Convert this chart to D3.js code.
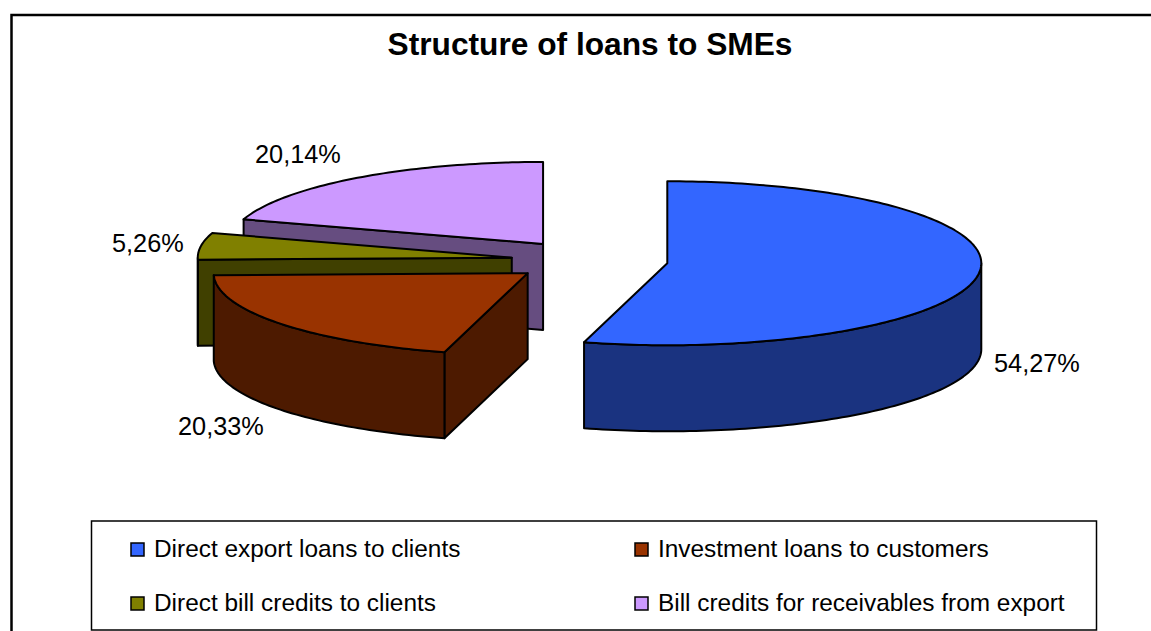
<!DOCTYPE html>
<html>
<head>
<meta charset="utf-8">
<script src="https://cdn.jsdelivr.net/npm/d3@7"></script>
<style>
  html, body { margin: 0; padding: 0; background: #fff; overflow: hidden; }
  svg { display: block; }
  text { font-family: "Liberation Sans", Arial, sans-serif; fill: #000; }
</style>
</head>
<body>
<svg></svg>
<script>
const categories = [
  "Direct export loans to clients",
  "Investment loans to customers",
  "Direct bill credits to clients",
  "Bill credits for receivables from export"
];
const values = [54.27, 20.33, 5.26, 20.14];
const topColors = ["#3366ff", "#993300", "#808000", "#cc99ff"];
const sideColors = ["#1a3380", "#4d1a00", "#404000", "#664d80"];

const width = 1151;
const height = 631;
const center = { x: 589.5, y: 260.5 };
const rx = 314;
const ry = 82;
const depth = 86;
const explode = 0.25;

const svg = d3.select("svg").attr("width", width).attr("height", height);

// Chart frame runs off the right and bottom of the picture
svg.append("rect")
  .attr("x", 11.5).attr("y", 15)
  .attr("width", 1200).attr("height", 700)
  .attr("fill", "#fff").attr("stroke", "#000").attr("stroke-width", 2.5);

svg.append("text")
  .attr("x", 590).attr("y", 55)
  .attr("text-anchor", "middle")
  .attr("font-size", 31.7).attr("font-weight", "bold")
  .text("Structure of loans to SMEs");

// Unit circle to the squashed pie ellipse
const x = d3.scaleLinear().domain([-1, 1]).range([center.x - rx, center.x + rx]);
const y = d3.scaleLinear().domain([-1, 1]).range([center.y + ry, center.y - ry]);

const arcs = d3.pie().sort(null)(values);
const line = d3.line();

function rimPoint(d, a, drop) {
  return [x(d.ox + Math.sin(a)), y(d.oy + Math.cos(a)) + drop];
}

function rimPoints(d, a0, a1, drop) {
  const n = Math.max(2, Math.ceil((a1 - a0) / 0.02));
  return d3.range(n + 1).map(i => rimPoint(d, a0 + (a1 - a0) * i / n, drop));
}

const slices = arcs.map((a, i) => {
  const mid = (a.startAngle + a.endAngle) / 2;
  return {
    i,
    a0: a.startAngle,
    a1: a.endAngle,
    ox: explode * Math.sin(mid),
    oy: explode * Math.cos(mid)
  };
});

function flatFace(d, a) {
  const apex = [x(d.ox), y(d.oy)];
  const rim = rimPoint(d, a, 0);
  return line([apex, rim, [rim[0], rim[1] + depth], [apex[0], apex[1] + depth]]) + "Z";
}

function drawSlice(d) {
  const g = svg.append("g")
    .attr("stroke", "#000").attr("stroke-width", 2).attr("stroke-linejoin", "round");

  // Flat cut faces that turn toward the viewer
  if (Math.sin(d.a0) < -1e-6) {
    g.append("path").attr("d", flatFace(d, d.a0)).attr("fill", sideColors[d.i]);
  }
  if (Math.sin(d.a1) > 1e-6) {
    g.append("path").attr("d", flatFace(d, d.a1)).attr("fill", sideColors[d.i]);
  }

  // Outer wall, front half of the ellipse only
  const w0 = Math.max(d.a0, Math.PI / 2);
  const w1 = Math.min(d.a1, 3 * Math.PI / 2);
  if (w1 > w0) {
    const pts = rimPoints(d, w0, w1, 0)
      .concat(rimPoints(d, w0, w1, depth).reverse());
    g.append("path").attr("d", line(pts) + "Z").attr("fill", sideColors[d.i]);
  }

  // Top
  const top = [[x(d.ox), y(d.oy)]].concat(rimPoints(d, d.a0, d.a1, 0));
  g.append("path").attr("d", line(top) + "Z").attr("fill", topColors[d.i]);
}

// Back to front
[3, 2, 1, 0].forEach(i => drawSlice(slices[i]));

// Data labels
const pct = d3.format(".2f");
const labelPos = [[994, 372], [178, 435], [112, 252], [255, 163]];
svg.append("g").selectAll("text")
  .data(values)
  .join("text")
  .attr("x", (d, i) => labelPos[i][0])
  .attr("y", (d, i) => labelPos[i][1])
  .attr("font-size", 25.3)
  .text(d => pct(d).replace(".", ",") + "%");

// Legend
svg.append("rect")
  .attr("x", 91.5).attr("y", 521)
  .attr("width", 1005).attr("height", 109)
  .attr("fill", "#fff").attr("stroke", "#000").attr("stroke-width", 1.5);

const legendCol = [131, 635];
const legendRow = [543, 597];
const legend = svg.append("g").selectAll("g")
  .data(categories)
  .join("g")
  .attr("transform", (d, i) => `translate(${legendCol[i % 2]},${legendRow[Math.floor(i / 2)]})`);

legend.append("rect")
  .attr("width", 13).attr("height", 13)
  .attr("fill", (d, i) => topColors[i])
  .attr("stroke", "#000").attr("stroke-width", 1.5);

legend.append("text")
  .attr("x", 23).attr("y", 14)
  .attr("font-size", 24.4)
  .text(d => d);
</script>
</body>
</html>
